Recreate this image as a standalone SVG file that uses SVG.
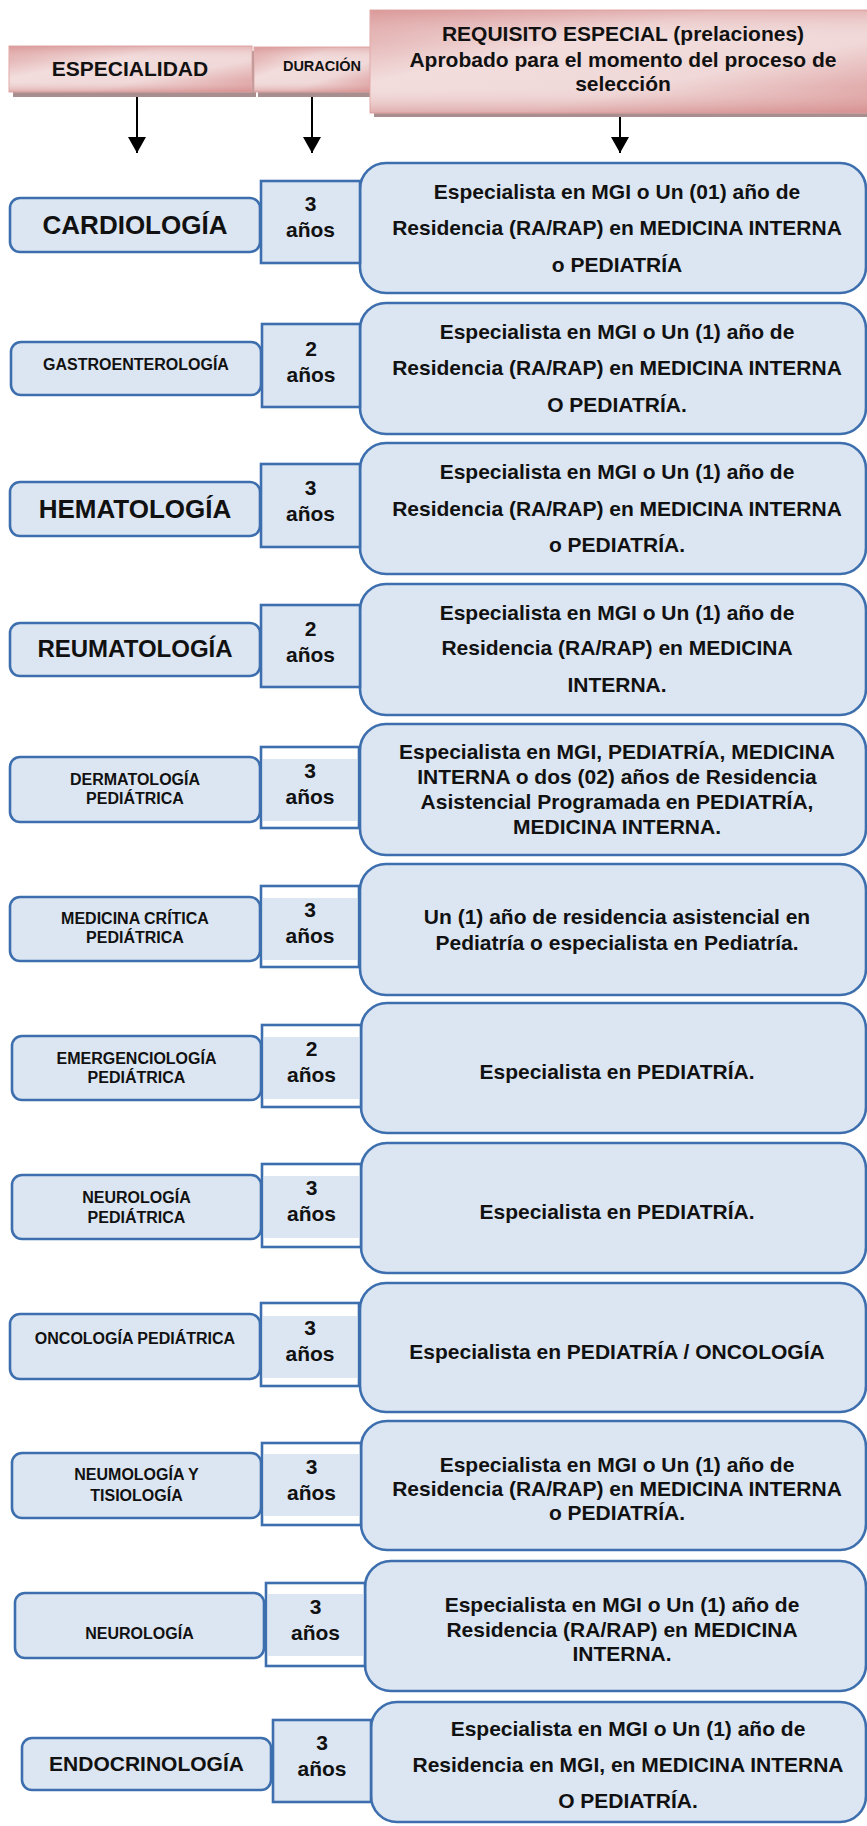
<svg xmlns="http://www.w3.org/2000/svg" width="867" height="1826" viewBox="0 0 867 1826">
<defs>
<linearGradient id="pink" x1="0" y1="0" x2="1" y2="1">
<stop offset="0" stop-color="#dc9c9c"/>
<stop offset="0.35" stop-color="#f2dcdc"/>
<stop offset="0.65" stop-color="#f0d8d8"/>
<stop offset="1" stop-color="#d99292"/>
</linearGradient>
<linearGradient id="pinkv" x1="0" y1="0" x2="0" y2="1">
<stop offset="0" stop-color="#d99696" stop-opacity="0.55"/>
<stop offset="0.3" stop-color="#f3dfdf" stop-opacity="0"/>
<stop offset="0.75" stop-color="#f3dfdf" stop-opacity="0"/>
<stop offset="1" stop-color="#d48c8c" stop-opacity="0.6"/>
</linearGradient>
<marker id="ah" markerWidth="8" markerHeight="9" refX="8" refY="4.5" orient="auto" markerUnits="strokeWidth">
<path d="M0,0 L8,4.5 L0,9 Z" fill="#000"/>
</marker>
<style>
text{font-family:"Liberation Sans",Arial,sans-serif;font-weight:bold;fill:#111;text-anchor:middle}
.hdr{fill:url(#pink);stroke:#e2aaaa;stroke-width:1}
.hdv{fill:url(#pinkv);stroke:none}
.shd{fill:#a88e8e}
.lb{fill:#dce6f2;stroke:#3d6fae;stroke-width:2.6}
.db{fill:#dce6f2;stroke:#3d6fae;stroke-width:2.6}
.dw{fill:#ffffff;stroke:#3d6fae;stroke-width:2.6}
.di{fill:#dce6f2;stroke:none}
.rb{fill:#dce6f2;stroke:#3d6fae;stroke-width:2.6}
.t21{font-size:21px}
.t26{font-size:26px}
.t24{font-size:24px}
.t16{font-size:16px}
.t14{font-size:14.5px}
.conn{stroke:#000;stroke-width:2;fill:none}
</style>
</defs>
<rect width="867" height="1826" fill="#ffffff"/>

<g id="hdr-especialidad">
<rect class="shd" x="13" y="51" width="243" height="46"/>
<rect class="hdr" x="9" y="46" width="243" height="46"/>
<rect class="hdv" x="9" y="46" width="243" height="46"/>
<text class="t21" x="130" y="76">ESPECIALIDAD</text>
</g>
<g id="hdr-duracion">
<rect class="shd" x="258" y="51" width="116" height="46"/>
<rect class="hdr" x="254" y="47" width="120" height="45"/>
<rect class="hdv" x="254" y="47" width="120" height="45"/>
<text class="t14" x="322" y="71">DURACIÓN</text>
</g>
<g id="hdr-requisito">
<rect class="shd" x="374" y="14" width="500" height="103"/>
<rect class="hdr" x="370" y="10" width="500" height="103"/>
<rect class="hdv" x="370" y="10" width="500" height="103"/>
<text class="t21" x="623" y="41">REQUISITO ESPECIAL (prelaciones)</text>
<text class="t21" x="623" y="67">Aprobado para el momento del proceso de</text>
<text class="t21" x="623" y="91">selección</text>
</g>

<g id="connectors">
<line class="conn" x1="137" y1="97" x2="137" y2="153" marker-end="url(#ah)"/>
<line class="conn" x1="312" y1="97" x2="312" y2="153" marker-end="url(#ah)"/>
<line class="conn" x1="620" y1="117" x2="620" y2="153" marker-end="url(#ah)"/>
</g>

<g id="row1">
<rect class="rb" x="360" y="163" width="506" height="130" rx="26"/>
<rect class="db" x="261" y="181" width="99" height="82"/>
<rect class="lb" x="10" y="198" width="250" height="54" rx="10"/>
<text class="t26" x="135" y="234">CARDIOLOGÍA</text>
<text class="t21" x="310.5" y="211">3</text>
<text class="t21" x="310.5" y="237">años</text>
<text class="t21" x="617" y="199">Especialista en MGI o Un (01) año de</text>
<text class="t21" x="617" y="235">Residencia (RA/RAP) en MEDICINA INTERNA</text>
<text class="t21" x="617" y="272">o PEDIATRÍA</text>
</g>

<g id="row2">
<rect class="rb" x="360" y="303" width="506" height="131" rx="26"/>
<rect class="db" x="262" y="324" width="98" height="83"/>
<rect class="lb" x="11" y="342" width="250" height="53" rx="10"/>
<text class="t16" x="136" y="370">GASTROENTEROLOGÍA</text>
<text class="t21" x="311" y="356">2</text>
<text class="t21" x="311" y="382">años</text>
<text class="t21" x="617" y="339">Especialista en MGI o Un (1) año de</text>
<text class="t21" x="617" y="375">Residencia (RA/RAP) en MEDICINA INTERNA</text>
<text class="t21" x="617" y="412">O PEDIATRÍA.</text>
</g>

<g id="row3">
<rect class="rb" x="360" y="443" width="506" height="131" rx="26"/>
<rect class="db" x="261" y="464" width="99" height="83"/>
<rect class="lb" x="10" y="482" width="250" height="54" rx="10"/>
<text class="t26" x="135" y="518">HEMATOLOGÍA</text>
<text class="t21" x="310.5" y="495">3</text>
<text class="t21" x="310.5" y="521">años</text>
<text class="t21" x="617" y="479">Especialista en MGI o Un (1) año de</text>
<text class="t21" x="617" y="516">Residencia (RA/RAP) en MEDICINA INTERNA</text>
<text class="t21" x="617" y="552">o PEDIATRÍA.</text>
</g>

<g id="row4">
<rect class="rb" x="360" y="584" width="506" height="131" rx="26"/>
<rect class="db" x="261" y="605" width="99" height="82"/>
<rect class="lb" x="10" y="623" width="250" height="53" rx="10"/>
<text class="t24" x="135" y="657">REUMATOLOGÍA</text>
<text class="t21" x="310.5" y="636">2</text>
<text class="t21" x="310.5" y="662">años</text>
<text class="t21" x="617" y="620">Especialista en MGI o Un (1) año de</text>
<text class="t21" x="617" y="655">Residencia (RA/RAP) en MEDICINA</text>
<text class="t21" x="617" y="692">INTERNA.</text>
</g>

<g id="row5">
<rect class="rb" x="360" y="724" width="506" height="131" rx="26"/>
<rect class="dw" x="261" y="747" width="98" height="81"/>
<rect class="di" x="263" y="759" width="94" height="62"/>
<rect class="lb" x="10" y="757" width="250" height="65" rx="10"/>
<text class="t16" x="135" y="785">DERMATOLOGÍA</text>
<text class="t16" x="135" y="804">PEDIÁTRICA</text>
<text class="t21" x="310" y="778">3</text>
<text class="t21" x="310" y="804">años</text>
<text class="t21" x="617" y="759">Especialista en MGI, PEDIATRÍA, MEDICINA</text>
<text class="t21" x="617" y="784">INTERNA o dos (02) años de Residencia</text>
<text class="t21" x="617" y="809">Asistencial Programada en PEDIATRÍA,</text>
<text class="t21" x="617" y="834">MEDICINA INTERNA.</text>
</g>

<g id="row6">
<rect class="rb" x="360" y="864" width="506" height="131" rx="26"/>
<rect class="dw" x="261" y="886" width="98" height="81"/>
<rect class="di" x="263" y="898" width="94" height="62"/>
<rect class="lb" x="10" y="897" width="250" height="64" rx="10"/>
<text class="t16" x="135" y="924">MEDICINA CRÍTICA</text>
<text class="t16" x="135" y="943">PEDIÁTRICA</text>
<text class="t21" x="310" y="917">3</text>
<text class="t21" x="310" y="943">años</text>
<text class="t21" x="617" y="924">Un (1) año de residencia asistencial en</text>
<text class="t21" x="617" y="950">Pediatría o especialista en Pediatría.</text>
</g>

<g id="row7">
<rect class="rb" x="361" y="1003" width="505" height="130" rx="26"/>
<rect class="dw" x="262" y="1025" width="99" height="82"/>
<rect class="di" x="264" y="1037" width="95" height="62"/>
<rect class="lb" x="12" y="1036" width="249" height="64" rx="10"/>
<text class="t16" x="136.5" y="1064">EMERGENCIOLOGÍA</text>
<text class="t16" x="136.5" y="1083">PEDIÁTRICA</text>
<text class="t21" x="311.5" y="1056">2</text>
<text class="t21" x="311.5" y="1082">años</text>
<text class="t21" x="617" y="1079">Especialista en PEDIATRÍA.</text>
</g>

<g id="row8">
<rect class="rb" x="361" y="1143" width="505" height="130" rx="26"/>
<rect class="dw" x="262" y="1164" width="99" height="83"/>
<rect class="di" x="264" y="1176" width="95" height="62"/>
<rect class="lb" x="12" y="1175" width="249" height="64" rx="10"/>
<text class="t16" x="136.5" y="1203">NEUROLOGÍA</text>
<text class="t16" x="136.5" y="1223">PEDIÁTRICA</text>
<text class="t21" x="311.5" y="1195">3</text>
<text class="t21" x="311.5" y="1221">años</text>
<text class="t21" x="617" y="1219">Especialista en PEDIATRÍA.</text>
</g>

<g id="row9">
<rect class="rb" x="360" y="1283" width="506" height="129" rx="26"/>
<rect class="dw" x="261" y="1303" width="98" height="83"/>
<rect class="di" x="263" y="1316" width="94" height="62"/>
<rect class="lb" x="10" y="1314" width="250" height="65" rx="10"/>
<text class="t16" x="135" y="1344">ONCOLOGÍA PEDIÁTRICA</text>
<text class="t21" x="310" y="1335">3</text>
<text class="t21" x="310" y="1361">años</text>
<text class="t21" x="617" y="1359">Especialista en PEDIATRÍA / ONCOLOGÍA</text>
</g>

<g id="row10">
<rect class="rb" x="361" y="1421" width="505" height="129" rx="26"/>
<rect class="dw" x="262" y="1443" width="99" height="82"/>
<rect class="di" x="264" y="1454" width="95" height="62"/>
<rect class="lb" x="12" y="1453" width="249" height="65" rx="10"/>
<text class="t16" x="136.5" y="1480">NEUMOLOGÍA Y</text>
<text class="t16" x="136.5" y="1501">TISIOLOGÍA</text>
<text class="t21" x="311.5" y="1474">3</text>
<text class="t21" x="311.5" y="1500">años</text>
<text class="t21" x="617" y="1472">Especialista en MGI o Un (1) año de</text>
<text class="t21" x="617" y="1496">Residencia (RA/RAP) en MEDICINA INTERNA</text>
<text class="t21" x="617" y="1520">o PEDIATRÍA.</text>
</g>

<g id="row11">
<rect class="rb" x="365" y="1561" width="501" height="130" rx="26"/>
<rect class="dw" x="266" y="1583" width="99" height="83"/>
<rect class="di" x="268" y="1594" width="95" height="62"/>
<rect class="lb" x="15" y="1593" width="249" height="65" rx="10"/>
<text class="t16" x="139.5" y="1639">NEUROLOGÍA</text>
<text class="t21" x="315.5" y="1614">3</text>
<text class="t21" x="315.5" y="1640">años</text>
<text class="t21" x="622" y="1612">Especialista en MGI o Un (1) año de</text>
<text class="t21" x="622" y="1637">Residencia (RA/RAP) en MEDICINA</text>
<text class="t21" x="622" y="1661">INTERNA.</text>
</g>

<g id="row12">
<rect class="rb" x="371" y="1702" width="495" height="120" rx="26"/>
<rect class="db" x="273" y="1720" width="98" height="82"/>
<rect class="lb" x="22" y="1738" width="249" height="52" rx="10"/>
<text class="t21" x="146.5" y="1771">ENDOCRINOLOGÍA</text>
<text class="t21" x="322" y="1750">3</text>
<text class="t21" x="322" y="1776">años</text>
<text class="t21" x="628" y="1736">Especialista en MGI o Un (1) año de</text>
<text class="t21" x="628" y="1772">Residencia en MGI, en MEDICINA INTERNA</text>
<text class="t21" x="628" y="1808">O PEDIATRÍA.</text>
</g>
</svg>
